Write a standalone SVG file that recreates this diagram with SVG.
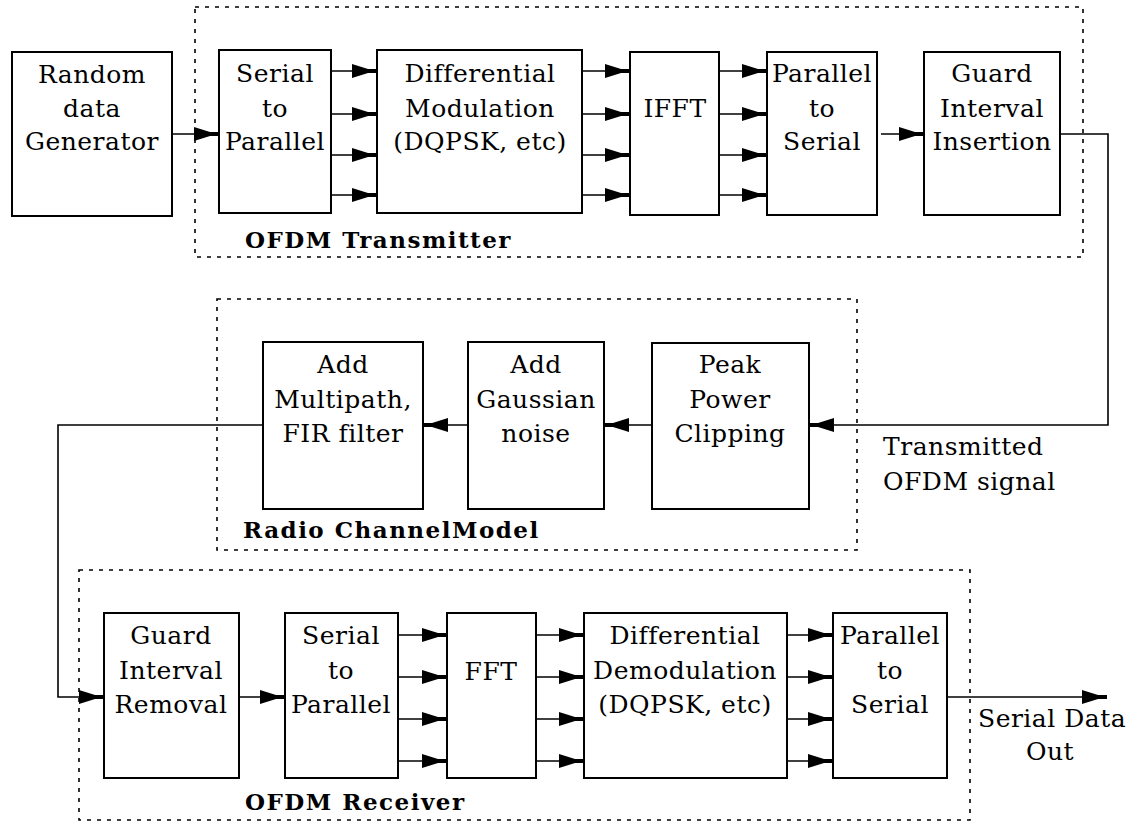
<svg xmlns="http://www.w3.org/2000/svg" width="1129" height="822" viewBox="0 0 1129 822">
<defs>
<marker id="ah" markerUnits="userSpaceOnUse" markerWidth="30" markerHeight="16" viewBox="-26 -8 30 16" refX="0" refY="0" orient="auto" overflow="visible">
<path d="M-25,-7 L-9,-2 L0,-2 L0,2 L-9,2 L-25,7 Z" fill="#000"/>
</marker>
<style>
.box{fill:#fff;stroke:#000;stroke-width:2}
.grp{fill:none;stroke:#000;stroke-width:1.6;stroke-dasharray:4 6}
.t{font-family:"DejaVu Serif",serif;font-size:25px;letter-spacing:0.5px;text-anchor:middle;fill:#000}
.tl{font-family:"DejaVu Serif",serif;font-size:25px;letter-spacing:0.5px;fill:#000}
.b{font-family:"DejaVu Serif",serif;font-size:23px;font-weight:bold;letter-spacing:1.5px;fill:#000}
.ca{fill:none;stroke:#000;stroke-width:1.6;marker-end:url(#ah)}
</style>
</defs>
<rect width="1129" height="822" fill="#fff"/>
<g id="groups">
<rect id="tx-group" class="grp" x="195" y="7" width="888" height="250"/>
<rect id="ch-group" class="grp" x="217" y="299" width="640" height="251"/>
<rect id="rx-group" class="grp" x="79" y="570" width="891" height="250"/>
<text class="b" x="245" y="248">OFDM Transmitter</text>
<text class="b" x="243" y="538">Radio ChannelModel</text>
<text class="b" x="245" y="810">OFDM Receiver</text>
</g>
<g id="connectors">
<line class="ca" x1="172" y1="134" x2="219" y2="134"/>
<line class="ca" x1="331" y1="71" x2="377" y2="71"/>
<line class="ca" x1="331" y1="114" x2="377" y2="114"/>
<line class="ca" x1="331" y1="155" x2="377" y2="155"/>
<line class="ca" x1="331" y1="195" x2="377" y2="195"/>
<line class="ca" x1="582" y1="71" x2="630" y2="71"/>
<line class="ca" x1="582" y1="114" x2="630" y2="114"/>
<line class="ca" x1="582" y1="155" x2="630" y2="155"/>
<line class="ca" x1="582" y1="195" x2="630" y2="195"/>
<line class="ca" x1="719" y1="71" x2="767" y2="71"/>
<line class="ca" x1="719" y1="114" x2="767" y2="114"/>
<line class="ca" x1="719" y1="155" x2="767" y2="155"/>
<line class="ca" x1="719" y1="195" x2="767" y2="195"/>
<line class="ca" x1="881" y1="134" x2="924" y2="134"/>
<path class="ca" d="M1060,134 H1108 V425 H809"/>
<line class="ca" x1="652" y1="425" x2="604" y2="425"/>
<line class="ca" x1="468" y1="425" x2="423" y2="425"/>
<path class="ca" d="M263,425 H58 V697 H104"/>
<line class="ca" x1="239" y1="697" x2="285" y2="697"/>
<line class="ca" x1="398" y1="635" x2="447" y2="635"/>
<line class="ca" x1="398" y1="677" x2="447" y2="677"/>
<line class="ca" x1="398" y1="719" x2="447" y2="719"/>
<line class="ca" x1="398" y1="761" x2="447" y2="761"/>
<line class="ca" x1="536" y1="635" x2="584" y2="635"/>
<line class="ca" x1="536" y1="677" x2="584" y2="677"/>
<line class="ca" x1="536" y1="719" x2="584" y2="719"/>
<line class="ca" x1="536" y1="761" x2="584" y2="761"/>
<line class="ca" x1="787" y1="635" x2="833" y2="635"/>
<line class="ca" x1="787" y1="677" x2="833" y2="677"/>
<line class="ca" x1="787" y1="719" x2="833" y2="719"/>
<line class="ca" x1="787" y1="761" x2="833" y2="761"/>
<line class="ca" x1="947" y1="697" x2="1107" y2="697"/>
<text class="tl" x="883" y="455">Transmitted</text>
<text class="tl" x="883" y="490">OFDM signal</text>
<text class="tl" x="978" y="727">Serial Data</text>
<text class="t" x="1050" y="760">Out</text>
</g>
<g id="random">
<rect class="box" x="12" y="52" width="160" height="164"/>
<text class="t" x="92" y="83">Random</text>
<text class="t" x="92" y="117">data</text>
<text class="t" x="92" y="150">Generator</text>
</g>
<g id="tx-sp">
<rect class="box" x="219" y="50" width="112" height="163"/>
<text class="t" x="275" y="82">Serial</text>
<text class="t" x="275" y="117">to</text>
<text class="t" x="275" y="150">Parallel</text>
</g>
<g id="tx-mod">
<rect class="box" x="377" y="50" width="205" height="163"/>
<text class="t" x="480" y="82">Differential</text>
<text class="t" x="480" y="117">Modulation</text>
<text class="t" x="480" y="150">(DQPSK, etc)</text>
</g>
<g id="ifft">
<rect class="box" x="630" y="52" width="89" height="163"/>
<text class="t" x="675" y="117">IFFT</text>
</g>
<g id="tx-ps">
<rect class="box" x="767" y="52" width="110" height="163"/>
<text class="t" x="822" y="82">Parallel</text>
<text class="t" x="822" y="117">to</text>
<text class="t" x="822" y="150">Serial</text>
</g>
<g id="gi-ins">
<rect class="box" x="924" y="52" width="136" height="163"/>
<text class="t" x="992" y="82">Guard</text>
<text class="t" x="992" y="117">Interval</text>
<text class="t" x="992" y="150">Insertion</text>
</g>
<g id="multipath">
<rect class="box" x="263" y="342" width="160" height="167"/>
<text class="t" x="343" y="373">Add</text>
<text class="t" x="343" y="408">Multipath,</text>
<text class="t" x="343" y="442">FIR filter</text>
</g>
<g id="gaussian">
<rect class="box" x="468" y="342" width="136" height="167"/>
<text class="t" x="536" y="373">Add</text>
<text class="t" x="536" y="408">Gaussian</text>
<text class="t" x="536" y="442">noise</text>
</g>
<g id="clipping">
<rect class="box" x="652" y="343" width="157" height="166"/>
<text class="t" x="730" y="373">Peak</text>
<text class="t" x="730" y="408">Power</text>
<text class="t" x="730" y="442">Clipping</text>
</g>
<g id="gi-rem">
<rect class="box" x="104" y="613" width="135" height="165"/>
<text class="t" x="171" y="644">Guard</text>
<text class="t" x="171" y="679">Interval</text>
<text class="t" x="171" y="713">Removal</text>
</g>
<g id="rx-sp">
<rect class="box" x="285" y="613" width="113" height="165"/>
<text class="t" x="341" y="644">Serial</text>
<text class="t" x="341" y="679">to</text>
<text class="t" x="341" y="713">Parallel</text>
</g>
<g id="fft">
<rect class="box" x="447" y="613" width="89" height="165"/>
<text class="t" x="491" y="680">FFT</text>
</g>
<g id="rx-demod">
<rect class="box" x="584" y="613" width="203" height="165"/>
<text class="t" x="685" y="644">Differential</text>
<text class="t" x="685" y="679">Demodulation</text>
<text class="t" x="685" y="713">(DQPSK, etc)</text>
</g>
<g id="rx-ps">
<rect class="box" x="833" y="613" width="114" height="165"/>
<text class="t" x="890" y="644">Parallel</text>
<text class="t" x="890" y="679">to</text>
<text class="t" x="890" y="713">Serial</text>
</g>
</svg>
